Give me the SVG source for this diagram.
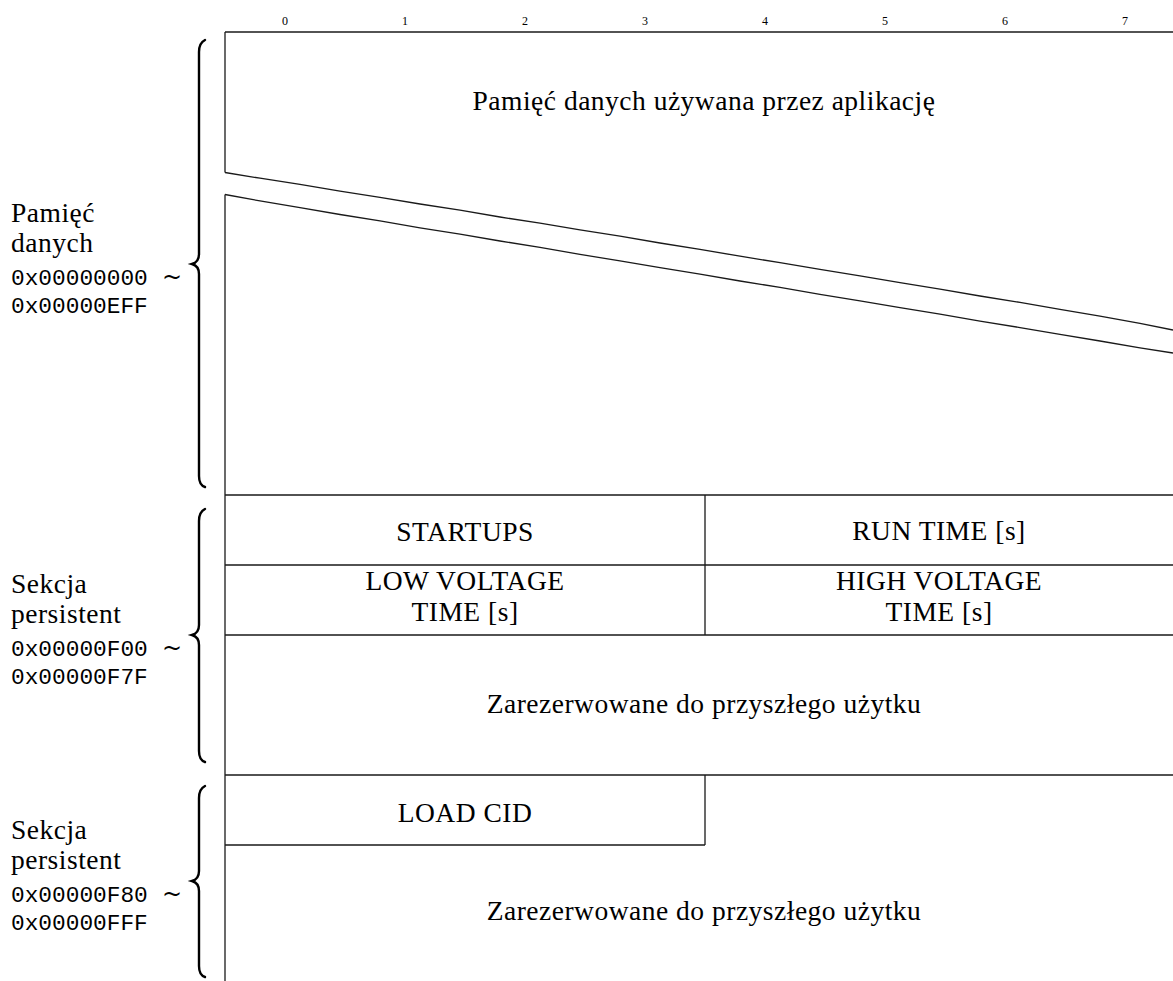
<svg xmlns="http://www.w3.org/2000/svg" width="1173" height="981" viewBox="0 0 1173 981">
<style>
.ln{fill:none;stroke:#1a1a1a;stroke-width:1.3}
.br{fill:none;stroke:#000;stroke-width:2.4;stroke-linecap:round}
.t{font-family:"Liberation Serif",serif;font-size:27.5px;letter-spacing:0.5px;fill:#000}
.c{text-anchor:middle}
.m{font-family:"Liberation Mono",monospace;font-size:22.8px;fill:#000}
.td{font-family:"DejaVu Serif","Liberation Serif",serif;font-size:24px;fill:#000}
.k{font-family:"Liberation Serif",serif;font-size:12px;fill:#000;text-anchor:middle}
</style>
<rect width="1173" height="981" fill="#fff"/>
<g id="ticks">
<text class="k" x="285" y="25">0</text>
<text class="k" x="405" y="25">1</text>
<text class="k" x="525" y="25">2</text>
<text class="k" x="645" y="25">3</text>
<text class="k" x="765" y="25">4</text>
<text class="k" x="885" y="25">5</text>
<text class="k" x="1005" y="25">6</text>
<text class="k" x="1125" y="25">7</text>
</g>
<g id="connectors">
<path class="ln" d="M225,32 H1173"/>
<path class="ln" d="M225,32 V172.5"/>
<path class="ln" d="M225,194.5 V981"/>
<path class="ln" d="M225,172.5 L260,178.2 L300,184.4 L340,191.2 L380,197.3 L420,204 L460,210.1 L500,217 L540,223.2 L580,229.9 L620,236.2 L660,243 L700,249.3 L740,256.2 L780,262.6 L820,269.4 L860,275.8 L900,282.7 L940,289.1 L980,296 L1020,302.4 L1060,309.4 L1100,316.2 L1140,323.4 L1173,330"/>
<path class="ln" d="M225,194.5 L260,200.9 L300,207.6 L340,214.5 L380,220.8 L420,227.8 L460,234.1 L500,241 L540,247.4 L580,254.4 L620,260.8 L660,267.7 L700,274.1 L740,281 L780,287.4 L820,294.4 L860,300.8 L900,307.7 L940,314.2 L980,321.1 L1020,327.6 L1060,334.4 L1100,341 L1140,347.8 L1173,353"/>
<path class="ln" d="M225,495 H1173 M225,565 H1173 M225,635 H1173 M225,775 H1173 M225,845 H705"/>
<path class="ln" d="M705,495 V635 M705,775 V845"/>
</g>
<g id="brace1"><path class="br" d="M205,40 Q199,43 199,52 V254 Q199,262 192,264 Q199,266 199,274 V476 Q199,485 205,487"/></g>
<g id="brace2"><path class="br" d="M205,509 Q199,512 199,521 V625 Q199,633 192,635 Q199,637 199,645 V751 Q199,760 205,762"/></g>
<g id="brace3"><path class="br" d="M205,786 Q199,789 199,798 V871 Q199,879 192,881 Q199,883 199,891 V966 Q199,975 205,977"/></g>
<g id="label1">
<text class="t" x="11" y="222">Pamięć</text>
<text class="t" x="11" y="252">danych</text>
<text x="11" y="285"><tspan class="m">0x00000000</tspan><tspan class="td" x="162">~</tspan></text>
<text class="m" x="11" y="313">0x00000EFF</text>
</g>
<g id="label2">
<text class="t" x="11" y="593">Sekcja</text>
<text class="t" x="11" y="623">persistent</text>
<text x="11" y="656"><tspan class="m">0x00000F00</tspan><tspan class="td" x="162">~</tspan></text>
<text class="m" x="11" y="684">0x00000F7F</text>
</g>
<g id="label3">
<text class="t" x="11" y="839">Sekcja</text>
<text class="t" x="11" y="869">persistent</text>
<text x="11" y="902"><tspan class="m">0x00000F80</tspan><tspan class="td" x="162">~</tspan></text>
<text class="m" x="11" y="930">0x00000FFF</text>
</g>
<g id="app-data"><text class="t c" x="704" y="110">Pamięć danych używana przez aplikację</text></g>
<g id="startups"><text class="t c" x="465" y="541">STARTUPS</text></g>
<g id="runtime"><text class="t c" x="939" y="540">RUN TIME [s]</text></g>
<g id="lowvoltage"><text class="t c" x="465" y="590">LOW VOLTAGE</text><text class="t c" x="465" y="621">TIME [s]</text></g>
<g id="highvoltage"><text class="t c" x="939" y="590">HIGH VOLTAGE</text><text class="t c" x="939" y="621">TIME [s]</text></g>
<g id="reserved1"><text class="t c" x="704" y="713">Zarezerwowane do przyszłego użytku</text></g>
<g id="loadcid"><text class="t c" x="465" y="822">LOAD CID</text></g>
<g id="reserved2"><text class="t c" x="704" y="920">Zarezerwowane do przyszłego użytku</text></g>
</svg>
